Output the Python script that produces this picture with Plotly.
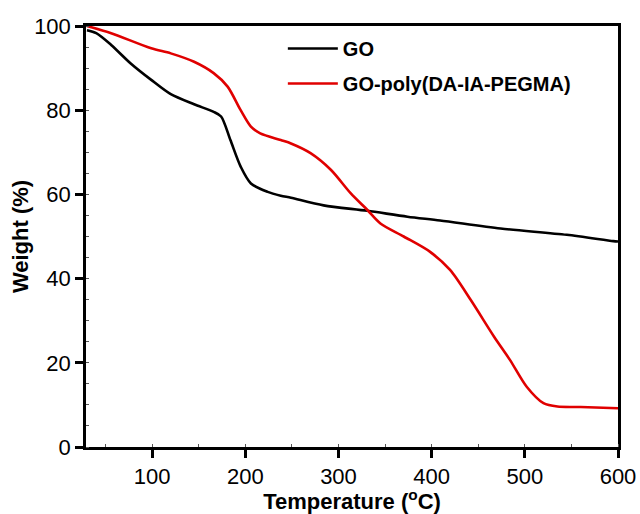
import plotly.graph_objects as go

# Temperature (°C) and weight (%)
go_temp = [30, 40, 56, 77, 99, 120, 145, 166, 174, 184, 195, 206, 224, 238, 249, 284, 331, 374, 409, 474, 545, 595, 600]
go_weight = [99.0, 98.3, 95.5, 91.1, 87.2, 83.8, 81.4, 79.6, 78.5, 72.9, 66.6, 62.6, 60.6, 59.7, 59.2, 57.4, 56.1, 54.7, 53.8, 51.9, 50.4, 48.9, 48.8]

poly_temp = [30, 56, 99, 120, 145, 166, 181, 195, 206, 216, 238, 249, 270, 292, 313, 331, 345, 370, 398, 420, 442, 467, 484, 502, 520, 535, 560, 600]
poly_weight = [100.0, 98.3, 94.7, 93.5, 91.5, 88.8, 85.6, 80.0, 76.1, 74.5, 72.9, 72.1, 69.8, 65.8, 60.3, 56.3, 53.1, 50.0, 46.4, 42.0, 34.9, 26.2, 20.7, 14.3, 10.4, 9.6, 9.5, 9.2]

series_names = ["GO", "GO-poly(DA-IA-PEGMA)"]
x_ticks = [100, 200, 300, 400, 500, 600]
y_ticks = [0, 20, 40, 60, 80, 100]

FONT = "Liberation Sans, Arial, sans-serif"

fig = go.Figure()
fig.add_trace(go.Scatter(x=go_temp, y=go_weight, mode="lines", name=series_names[0],
                         line=dict(color="#000000", width=2.6, shape="spline", smoothing=0.8),
                         legendgroup="a"))
fig.add_trace(go.Scatter(x=poly_temp, y=poly_weight, mode="lines", name=series_names[1],
                         line=dict(color="#e00000", width=2.6, shape="spline", smoothing=0.8),
                         legendgroup="b"))

axis_common = dict(
    showgrid=False, zeroline=False, showline=True, linecolor="black", linewidth=2.5,
    mirror=True, ticks="outside", ticklen=8, tickwidth=2.5, tickcolor="black",
    tickfont=dict(family=FONT, size=22, color="black"),
    minor=dict(ticks="inside", ticklen=3, tickwidth=1, tickcolor="#555555"),
)

fig.update_xaxes(range=[29, 600], tickvals=x_ticks, **axis_common,
                 title=dict(text="<b>Temperature (<sup>o</sup>C)</b>",
                            font=dict(family=FONT, size=22, color="black"), standoff=3))
fig.update_yaxes(range=[0, 100], tickvals=y_ticks, **axis_common,
                 title=dict(text="<b>Weight (%)</b>",
                            font=dict(family=FONT, size=22, color="black"), standoff=0))

fig.update_layout(
    width=640, height=514,
    margin=dict(l=86, r=22, t=26, b=67, autoexpand=False),
    paper_bgcolor="white", plot_bgcolor="white",
    showlegend=True,
    legend=dict(x=0.37, y=0.993, xanchor="left", yanchor="top",
                bgcolor="rgba(0,0,0,0)", borderwidth=0,
                font=dict(family=FONT, size=20, color="black", weight="bold"),
                traceorder="grouped", tracegroupgap=6, itemwidth=50),
)

fig.write_html("out.html", config={"displayModeBar": False},
               post_script="document.body.style.margin='0';document.body.style.overflow='hidden';")
